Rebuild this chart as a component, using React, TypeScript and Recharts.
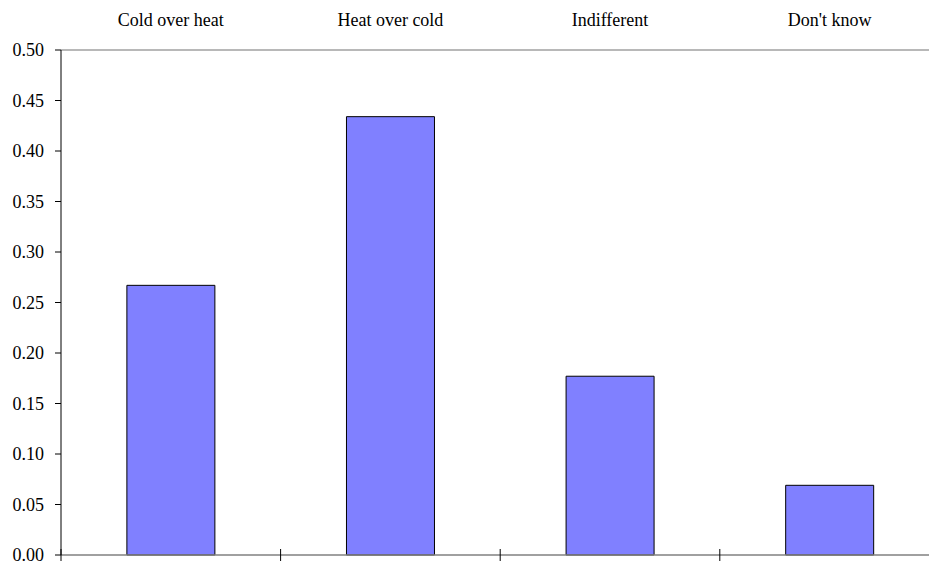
import { Bar, BarChart, XAxis, YAxis } from "recharts";

const categories = ["Cold over heat", "Heat over cold", "Indifferent", "Don't know"];
const shares = [0.267, 0.434, 0.177, 0.069];
const yTicks = [0, 0.05, 0.1, 0.15, 0.2, 0.25, 0.3, 0.35, 0.4, 0.45, 0.5];

const data = categories.map((name, i) => ({ name, share: shares[i] }));

const font = "'Liberation Serif', 'Times New Roman', serif";

// tick marks that cross the bottom axis at the category boundaries (band edges)
function EdgeTick(props: any) {
  const { x = 0, y = 0, payload, index, visibleTicksCount } = props;
  const half = payload?.offset ?? 0;
  const left = x - half;
  const isLast = index === visibleTicksCount - 1;
  return (
    <g>
      <line x1={left} x2={left} y1={y - 6} y2={y + 6} stroke="#000" strokeWidth={1} />
      {isLast ? <line x1={x + half} x2={x + half} y1={y - 6} y2={y + 6} stroke="#000" strokeWidth={1} /> : null}
    </g>
  );
}

export default function App() {
  return (
    <div style={{ position: "absolute", left: 0, top: 0, width: 929, height: 562, overflow: "hidden", background: "#fff" }}>
      <BarChart
        width={940}
        height={562}
        data={data}
        barCategoryGap="30%"
        margin={{ top: 0, right: 0.6, bottom: 0, left: 0 }}
      >
        <XAxis
          xAxisId="cat"
          orientation="top"
          dataKey="name"
          height={50}
          axisLine={{ stroke: "#a0a0a0", strokeWidth: 1.5 }}
          tickLine={false}
          tickSize={0}
          tickMargin={24}
          interval={0}
          tick={{ fill: "#000", fontSize: 18, fontFamily: font }}
        />
        <XAxis
          xAxisId="edge"
          orientation="bottom"
          dataKey="name"
          interval={0}
          height={7}
          axisLine={{ stroke: "#808080", strokeWidth: 1.5 }}
          tickLine={false}
          tickSize={0}
          tickMargin={0}
          tick={<EdgeTick />}
        />
        <YAxis
          domain={[0, 0.5]}
          ticks={yTicks}
          interval={0}
          width={61}
          axisLine={{ stroke: "#000" }}
          tickLine={{ stroke: "#000" }}
          tickSize={6}
          tickMargin={11}
          tickFormatter={(v: number) => v.toFixed(2)}
          tick={{ fill: "#000", fontSize: 18, fontFamily: font }}
        />
        <Bar
          xAxisId="cat"
          dataKey="share"
          fill="#8080ff"
          stroke="#000"
          strokeWidth={1}
          isAnimationActive={false}
        />
      </BarChart>
    </div>
  );
}
